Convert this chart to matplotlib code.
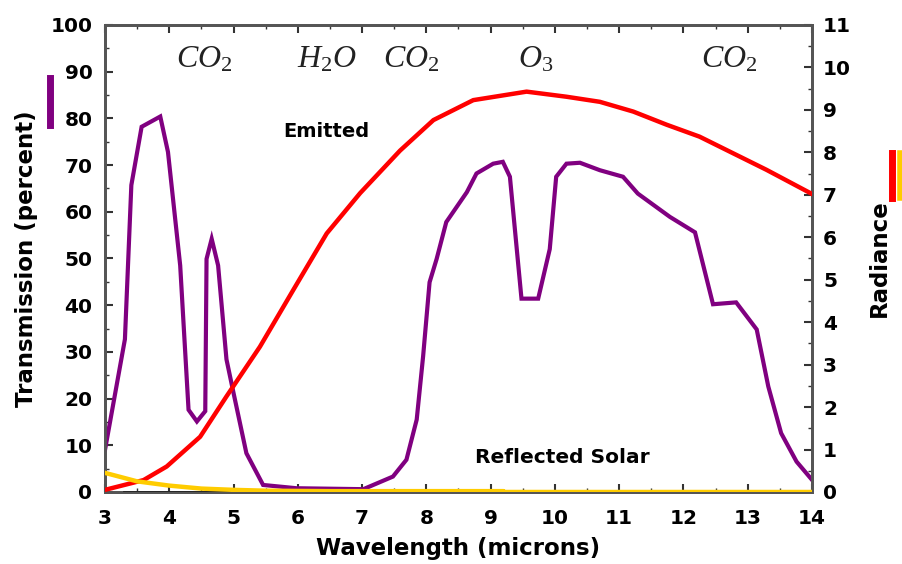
import matplotlib
matplotlib.use("Agg")
import matplotlib.pyplot as plt
from matplotlib.lines import Line2D
from matplotlib.ticker import MultipleLocator

plt.rcParams['font.family'] = ['DejaVu Sans']
plt.rcParams['mathtext.fontset'] = 'custom'
plt.rcParams['mathtext.rm'] = 'Liberation Serif'
plt.rcParams['mathtext.it'] = 'Liberation Serif:italic'

# transmission (percent), left axis
trans_x = [3.0, 3.31, 3.41, 3.57, 3.86, 3.98, 4.17, 4.30, 4.43, 4.56, 4.58, 4.66, 4.76, 4.89,
           5.0, 5.2, 5.46, 5.98, 7.02, 7.48, 7.69, 7.85, 7.95, 8.05, 8.16, 8.31, 8.63, 8.78,
           9.04, 9.19, 9.30, 9.48, 9.74, 9.92, 10.02, 10.18, 10.39, 10.70, 11.06, 11.29,
           11.79, 12.18, 12.46, 12.82, 13.14, 13.32, 13.52, 13.76, 14.0]
trans_y = [9.0, 32.7, 65.7, 78.2, 80.4, 72.8, 48.5, 17.6, 15.1, 17.3, 49.9, 54.2, 48.5, 28.4,
           21.2, 8.3, 1.5, 0.8, 0.6, 3.3, 6.9, 15.5, 29.1, 44.9, 49.9, 57.8, 64.2, 68.2,
           70.3, 70.7, 67.5, 41.4, 41.4, 52.0, 67.5, 70.3, 70.5, 68.9, 67.5, 63.9,
           58.9, 55.6, 40.2, 40.6, 34.8, 22.6, 12.6, 6.5, 2.6]

# emitted radiance, right axis
emit_x = [3.0, 3.6, 3.96, 4.48, 4.89, 5.41, 5.93, 6.45, 6.97, 7.59, 8.11, 8.73, 9.56,
          10.18, 10.70, 11.22, 11.74, 12.25, 12.77, 13.29, 14.0]
emit_y = [0.05, 0.28, 0.6, 1.3, 2.25, 3.42, 4.76, 6.09, 7.04, 8.04, 8.76, 9.23, 9.43,
          9.31, 9.19, 8.96, 8.65, 8.37, 7.98, 7.59, 7.02]

# reflected solar radiance, right axis
refl_x = [3.0, 3.5, 4.0, 4.5, 5.0, 5.5, 6.5, 9.2, 9.2, 14.0]
refl_y = [0.45, 0.25, 0.15, 0.08, 0.05, 0.03, 0.02, 0.02, 0.0, 0.0]

# dark baseline segment under the reflected curve
base_x = [3.3, 5.45]
base_y = [0.0, 0.0]

gases = [r'$CO_2$', r'$H_2O$', r'$CO_2$', r'$O_3$', r'$CO_2$']
gas_x = [4.54, 6.45, 7.77, 9.70, 12.71]

fig = plt.figure(figsize=(9.02, 5.64), dpi=100)
ax = fig.add_axes([0.1164, 0.1277, 0.7838, 0.828])
ax2 = ax.twinx()

spine_col = '#555555'

ax.plot(trans_x, trans_y, color='#800080', lw=3, solid_joinstyle='miter', zorder=3)
ax2.plot(emit_x, emit_y, color='#ff0000', lw=3.2, zorder=3)
ax2.plot(base_x, base_y, color='#222222', lw=2, zorder=3)
ax2.plot(refl_x, refl_y, color='#ffcc00', lw=3.2, zorder=4)

ax.set_xlim(3, 14)
ax.set_ylim(0, 100)
ax2.set_ylim(0, 11)

ax.xaxis.set_major_locator(MultipleLocator(1))
ax.xaxis.set_minor_locator(MultipleLocator(0.5))
ax.yaxis.set_major_locator(MultipleLocator(10))
ax.yaxis.set_minor_locator(MultipleLocator(5))
ax2.yaxis.set_major_locator(MultipleLocator(1))
ax2.yaxis.set_minor_locator(MultipleLocator(0.5))

ax.tick_params(axis='both', which='both', direction='in', top=True, colors='#333333',
               labelcolor='black')
ax.tick_params(which='major', length=6, width=1.5)
ax.tick_params(axis='y', which='major', pad=9)
ax.tick_params(axis='x', which='major', pad=12)
ax.tick_params(which='minor', length=3, width=1)
ax2.tick_params(axis='y', which='both', direction='in', colors='#333333', labelcolor='black')
ax2.tick_params(which='major', length=6, width=1.5, pad=8)
ax2.tick_params(which='minor', length=3, width=1)

for a in (ax, ax2):
    for lbl in a.get_xticklabels() + a.get_yticklabels():
        lbl.set_fontsize(14.5)
        lbl.set_fontweight('bold')
    for s in a.spines.values():
        s.set_color(spine_col)
        s.set_linewidth(2)

ax.set_ylabel('Transmission (percent)', fontsize=16.5, fontweight='bold', labelpad=9)
ax.set_xlabel('Wavelength (microns)', fontsize=16.5, fontweight='bold', labelpad=7)
ax2.set_ylabel('Radiance', fontsize=16.5, fontweight='bold', labelpad=12)

for g, gx in zip(gases, gas_x):
    ax.text(gx, 90.8, g, fontsize=23, ha='center', va='baseline', color='#222222')

ax.text(6.44, 77.2, 'Emitted', fontsize=14, fontweight='bold', ha='center', va='center')
ax.text(10.11, 7.3, 'Reflected Solar', fontsize=14.5, fontweight='bold', ha='center', va='center')

# small colour keys next to the axis labels
fig.add_artist(Line2D([50 / 902, 50 / 902], [1 - 78 / 564, 1 - 125 / 564],
                      color='#800080', lw=5, transform=fig.transFigure))
fig.add_artist(Line2D([892 / 902, 892 / 902], [1 - 153 / 564, 1 - 198 / 564],
                      color='#ff0000', lw=5, transform=fig.transFigure))
fig.add_artist(Line2D([900 / 902, 900 / 902], [1 - 153 / 564, 1 - 198 / 564],
                      color='#ffcc00', lw=4, transform=fig.transFigure))

fig.savefig('out.png', dpi=100)
